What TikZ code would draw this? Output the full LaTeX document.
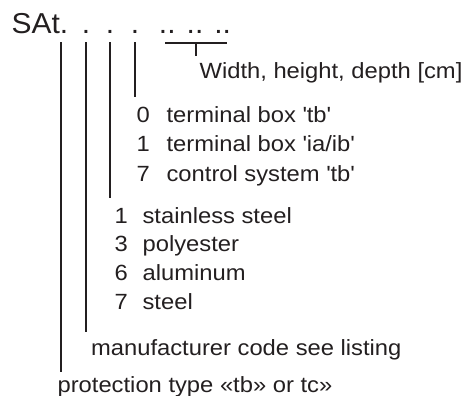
\documentclass[tikz,border=0pt]{standalone}
\usepackage{fontspec}
\setmainfont{Liberation Sans}[FakeStretch=1.08]
\newfontfamily\titlefont{Liberation Sans}[FakeStretch=1.04]
\usepackage{tikz}
\definecolor{ink}{RGB}{35,31,32}

\begin{document}
\begin{tikzpicture}[x=0.5pt, y=-0.5pt, line width=0.6pt, ink,
  txt/.style={anchor=base west, inner sep=0pt, font=\fontsize{11}{13}\selectfont},
  big/.style={anchor=base, inner sep=0pt, font=\titlefont\fontsize{14.4}{16}\selectfont}]
\useasboundingbox (0,0) rectangle (466,396);

\node[big, anchor=base west] (code) at (11,33) {SAt.};
\foreach \n/\x in {a/86, b/110, c/135}
  \node[big] (dot\n) at (\x,33) {.};
\node[big] (dim) at (195,33) {.. .. ..};

\foreach \n/\x/\y in {a/61/372, b/86/332, c/110/198, d/135/97} {
  \coordinate (\n top) at (\x,42);
  \coordinate (\n end) at (\x,\y);
  \draw (\n top) -- (\n end);
}

\coordinate (bl) at (165,43);
\coordinate (br) at (227,43);
\coordinate (bm) at (196,43);
\coordinate (bt) at (196,56);
\draw (bl) -- (br);
\draw (bm) -- (bt);

\node[txt] (size) at (199,78) {Width, height, depth [cm]};

\foreach \k/\t [count=\i from 0] in {0/{terminal box \textquotesingle tb\textquotesingle},
    1/{terminal box \textquotesingle ia/ib\textquotesingle},
    7/{control system \textquotesingle tb\textquotesingle}} {
  \node[txt] (boxnum\i) at (136,122+29.5*\i) {\k};
  \node[txt] (box\i) at (166,122+29.5*\i) {\t};
}

\foreach \k/\t [count=\i from 0] in {1/stainless steel, 3/polyester, 6/aluminum, 7/steel} {
  \node[txt] (matnum\i) at (114,223+28.7*\i) {\k};
  \node[txt] (mat\i) at (142,223+28.7*\i) {\t};
}

\node[txt] (maker) at (90.5,355) {manufacturer code see listing};
\node[txt] (prot) at (57,392) {protection type «tb» or tc»};

\end{tikzpicture}
\end{document}
